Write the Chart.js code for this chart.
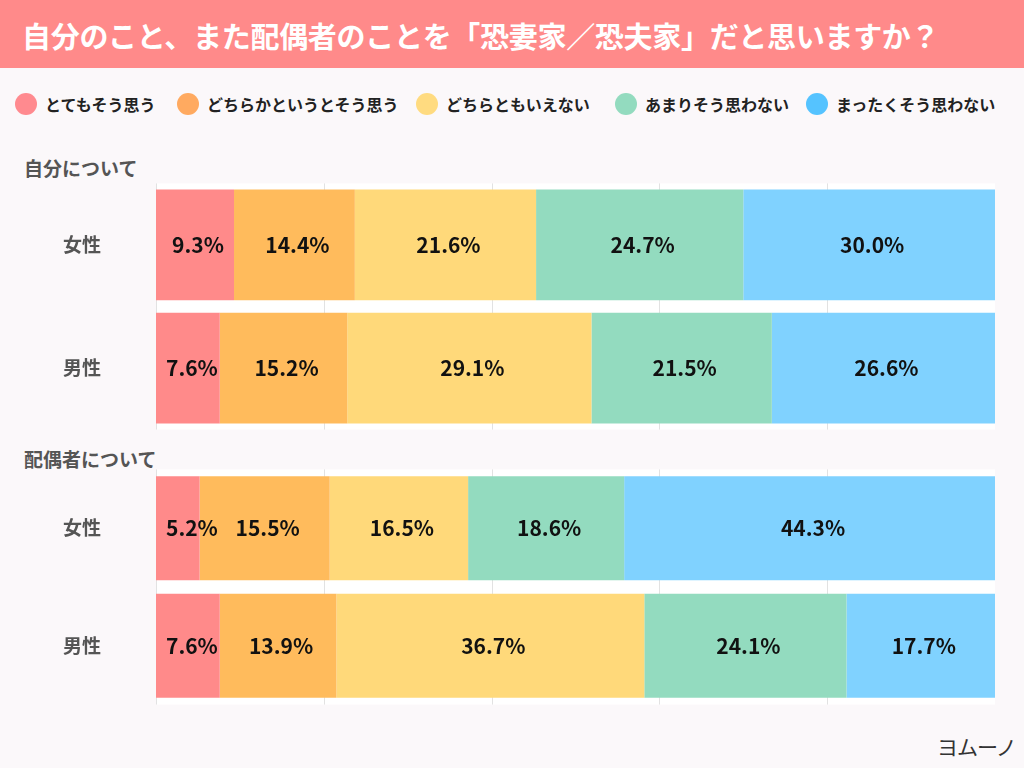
<!DOCTYPE html>
<html lang="ja">
<head>
<meta charset="utf-8">
<script src="https://cdn.jsdelivr.net/npm/chart.js@4"></script>
<style>
  html, body { margin:0; padding:0; }
  body { width:1024px; height:768px; background:#fbf8fa; position:relative; overflow:hidden;
         font-family:"Noto Sans CJK JP","Noto Sans",sans-serif; }
  #banner { position:absolute; left:0; top:0; width:1024px; height:68px; background:#ff8a8a; }
  #title { position:absolute; left:22px; top:15px; font-size:29px; font-weight:700; color:#fff; line-height:40px; white-space:nowrap; letter-spacing:-0.3px; }
  .leg { position:absolute; top:93px; height:22px; display:flex; align-items:center; font-size:16px; font-weight:700; color:#222; white-space:nowrap; }
  .dot { width:22px; height:22px; border-radius:50%; margin-right:8px; }
  .sec { position:absolute; left:24px; font-size:19px; font-weight:700; color:#555; white-space:nowrap; }
  .cw { position:absolute; left:0; width:1024px; }
  #mark { position:absolute; left:937px; top:731px; font-size:21px; color:#333; letter-spacing:-1px; }
</style>
</head>
<body>
<div id="banner"></div>
<div id="title">自分のこと、また配偶者のことを「恐妻家／恐夫家」だと思いますか？</div>
<div id="legend"></div>
<div class="sec" style="top:154px;">自分について</div>
<div class="sec" style="top:445px;">配偶者について</div>
<div class="cw" style="top:172px;height:269px;"><canvas id="c1"></canvas></div>
<div class="cw" style="top:458px;height:258px;"><canvas id="c2"></canvas></div>
<div id="mark">ヨムーノ</div>
<script>
// ---- data ----
const seriesNames = ["とてもそう思う","どちらかというとそう思う","どちらともいえない","あまりそう思わない","まったくそう思わない"];
const categories = ["女性","男性"];
const selfFemale = [9.3, 14.4, 21.6, 24.7, 30.0];
const selfMale   = [7.6, 15.2, 29.1, 21.5, 26.6];
const spouseFemale = [5.2, 15.5, 16.5, 18.6, 44.3];
const spouseMale   = [7.6, 13.9, 36.7, 24.1, 17.7];

const barColors = ["#ff8a8a","#ffbb5c","#ffd97a","#93dbbf","#80d2ff"];
const legendColors = ["#ff8a8f","#ffaa60","#ffdb80","#93dbbf","#55c3ff"];
const legendX = [15, 177, 416, 615, 806];

// legend (HTML)
const legEl = document.getElementById('legend');
seriesNames.forEach((n,i)=>{
  const d = document.createElement('div');
  d.className='leg'; d.style.left = legendX[i]+'px';
  d.innerHTML = '<span class="dot" style="background:'+legendColors[i]+'"></span>'+n;
  legEl.appendChild(d);
});

const bgPlugin = {
  id:'bgGrid',
  beforeDatasetsDraw(chart){
    const {ctx, chartArea:a, scales:{x}} = chart;
    ctx.save();
    ctx.fillStyle='#ffffff';
    ctx.fillRect(a.left, a.top, a.right-a.left, a.bottom-a.top);
    ctx.strokeStyle='#e2e2e2'; ctx.lineWidth=1;
    [0,20,40,60,80].forEach(v=>{
      const px = Math.round(x.getPixelForValue(v))+0.5;
      ctx.beginPath(); ctx.moveTo(px,a.top); ctx.lineTo(px,a.bottom); ctx.stroke();
    });
    ctx.restore();
  }
};
const labelPlugin = {
  id:'vals',
  afterDatasetsDraw(chart){
    const ctx = chart.ctx;
    ctx.save();
    ctx.font = '700 21px "Noto Sans CJK JP","Noto Sans",sans-serif';
    ctx.fillStyle = '#111';
    ctx.textAlign='center'; ctx.textBaseline='middle';
    chart.data.datasets.forEach((ds,di)=>{
      chart.getDatasetMeta(di).data.forEach((bar,i)=>{
        const txt = ds.data[i].toFixed(1)+'%';
        const w = ctx.measureText(txt).width;
        const start = Math.min(bar.x, bar.base);
        let cx = (bar.x + bar.base)/2 + 3;
        cx = Math.max(cx, start + w/2 + 10);
        ctx.fillText(txt, cx, bar.y);
      });
    });
    ctx.restore();
  }
};

function makeChart(id, female, male, barPct){
  const datasets = seriesNames.map((n,i)=>({
    label:n, data:[female[i], male[i]], backgroundColor:barColors[i],
    borderWidth:0, barPercentage:barPct, categoryPercentage:1
  }));
  return new Chart(document.getElementById(id), {
    type:'bar',
    data:{ labels:categories, datasets },
    options:{
      indexAxis:'y', responsive:true, maintainAspectRatio:false, animation:false,
      layout:{ padding:{ left:63, right:29, top:0, bottom:0 } },
      plugins:{ legend:{display:false}, tooltip:{enabled:false} },
      scales:{
        x:{ stacked:true, min:0, max:100, display:false },
        y:{ stacked:true, grid:{display:false}, border:{display:false},
            ticks:{ color:'#555', font:{ family:'"Noto Sans CJK JP","Noto Sans",sans-serif', size:19, weight:'700' }, padding:0, crossAlign:'far' },
            afterFit(s){ s.width = 93; } }
      }
    },
    plugins:[bgPlugin, labelPlugin]
  });
}
makeChart('c1', selfFemale, selfMale, 0.9);
makeChart('c2', spouseFemale, spouseMale, 0.885);
</script>
</body>
</html>
